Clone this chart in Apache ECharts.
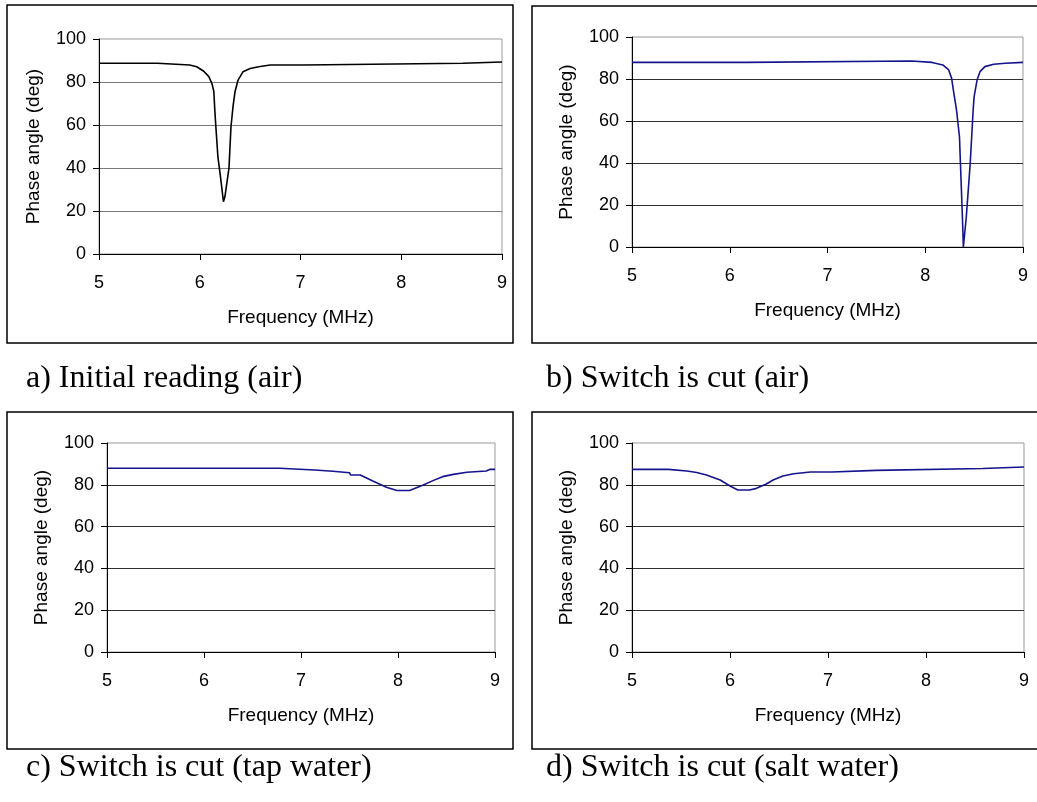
<!DOCTYPE html>
<html>
<head>
<meta charset="utf-8">
<script src="https://cdn.jsdelivr.net/npm/echarts@6/dist/echarts.min.js"></script>
<style>
html,body{margin:0;padding:0;background:#fff;}
#chart{width:1037px;height:802px;}
</style>
</head>
<body>
<div id="chart"></div>
<script>
// ---- data ----
const xTicks = [5, 6, 7, 8, 9];
const yTicks = [0, 20, 40, 60, 80, 100];
const captions = ['a) Initial reading (air)', 'b) Switch is cut (air)', 'c) Switch is cut (tap water)', 'd) Switch is cut (salt water)'];

const aFreq  = [5.00, 5.58, 5.59, 5.90, 5.91, 5.97, 6.04, 6.09, 6.12, 6.14, 6.15, 6.16, 6.18, 6.21, 6.235, 6.25, 6.29, 6.31, 6.33, 6.35, 6.38, 6.43, 6.50, 6.56, 6.60, 6.70, 7.03, 7.04, 8.61, 8.62, 9.00];
const aPhase = [88.7, 88.7, 87.9, 87.9, 87.4, 87.1, 85.0, 82.5, 79.4, 75.5, 66.5, 59.2, 45.3, 34.4, 24.3, 26.7, 39.9, 59.2, 68.5, 75.5, 80.9, 84.8, 86.3, 86.9, 87.2, 87.9, 87.9, 88.7, 88.7, 89.3, 89.3];

const bFreq  = [5.00, 6.17, 6.18, 7.86, 7.87, 8.07, 8.08, 8.18, 8.24, 8.27, 8.29, 8.32, 8.35, 8.36, 8.37, 8.38, 8.39, 8.41, 8.42, 8.44, 8.46, 8.475, 8.49, 8.50, 8.53, 8.56, 8.61, 8.70, 8.82, 8.83, 9.00];
const bPhase = [87.9, 87.9, 88.6, 88.6, 87.9, 87.9, 87.5, 86.7, 84.3, 80.3, 74.0, 65.2, 52.5, 39.9, 27.1, 14.4, 0, 0, 14.4, 27.1, 39.9, 52.5, 65.2, 71.6, 79.5, 83.5, 85.9, 87.0, 87.5, 87.9, 87.9];

const cFreq  = [5.00, 6.78, 6.79, 7.14, 7.15, 7.33, 7.34, 7.50, 7.51, 7.61, 7.74, 7.88, 7.99, 8.12, 8.26, 8.36, 8.46, 8.57, 8.71, 8.91, 8.95, 9.00];
const cPhase = [87.9, 87.9, 87.1, 87.1, 86.5, 86.5, 85.8, 85.8, 84.7, 84.7, 81.8, 78.8, 77.3, 77.3, 79.9, 82.0, 83.9, 85.0, 86.0, 86.6, 87.4, 87.4];

const dFreq  = [5.00, 5.37, 5.38, 5.56, 5.57, 5.66, 5.76, 5.90, 6.00, 6.08, 6.20, 6.27, 6.37, 6.44, 6.54, 6.65, 6.82, 7.04, 7.05, 7.49, 7.50, 8.58, 8.59, 9.00];
const dPhase = [87.4, 87.4, 86.6, 86.6, 85.9, 85.9, 84.7, 82.3, 79.4, 77.5, 77.5, 78.3, 80.4, 82.3, 84.2, 85.3, 86.1, 86.1, 86.9, 86.9, 87.8, 87.8, 88.5, 88.5];

// ---- layout ----
const panels = [
  {freq: aFreq, phase: aPhase, color: '#000000', grid: {left: 99, top: 39, width: 403, height: 215}, grid2: '#7a7a7a', box: [7, 5, 506, 338], cap: [26, 379]},
  {freq: bFreq, phase: bPhase, color: '#14148c', grid: {left: 632, top: 37, width: 391, height: 210}, grid2: '#303030', box: [532, 6, 520, 337], cap: [546, 379]},
  {freq: cFreq, phase: cPhase, color: '#14148c', grid: {left: 107, top: 443, width: 388, height: 209}, grid2: '#303030', box: [7, 412, 506, 337], cap: [26, 768]},
  {freq: dFreq, phase: dPhase, color: '#14148c', grid: {left: 632, top: 443, width: 392, height: 209}, grid2: '#303030', box: [532, 412, 520, 337], cap: [546, 768]}
];

const FONT = '"Liberation Sans", Arial, sans-serif';
const grids = [], xAxes = [], yAxes = [], series = [], graphics = [];

panels.forEach((p, i) => {
  grids.push(Object.assign({show: true, borderColor: '#999', borderWidth: 1, backgroundColor: 'transparent'}, p.grid));
  xAxes.push({
    type: 'value', gridIndex: i, min: xTicks[0], max: xTicks[xTicks.length - 1], interval: 1,
    name: 'Frequency (MHz)', nameLocation: 'middle', nameGap: 54,
    nameTextStyle: {fontSize: 19, fontFamily: FONT, color: '#000'},
    axisLine: {show: true, onZero: false, lineStyle: {color: '#000', width: 1}},
    axisTick: {show: true, inside: false, length: 6, lineStyle: {color: '#000'}},
    axisLabel: {fontSize: 18, fontFamily: FONT, color: '#000', margin: 20},
    splitLine: {show: false}
  });
  yAxes.push({
    type: 'value', gridIndex: i, min: yTicks[0], max: yTicks[yTicks.length - 1], interval: 20,
    name: 'Phase angle (deg)', nameLocation: 'middle', nameGap: 56,
    nameTextStyle: {fontSize: 19, fontFamily: FONT, color: '#000'},
    axisLine: {show: true, lineStyle: {color: '#000', width: 1}},
    axisTick: {show: true, inside: false, length: 6, lineStyle: {color: '#000'}},
    axisLabel: {fontSize: 18, fontFamily: FONT, color: '#000', margin: 13},
    splitLine: {show: true, showMinLine: false, showMaxLine: false, lineStyle: {color: p.grid2, width: 1}}
  });
  series.push({
    type: 'line', xAxisIndex: i, yAxisIndex: i, showSymbol: false, symbol: 'none',
    lineStyle: {color: p.color, width: 1.6}, animation: false,
    data: p.freq.map((f, k) => [f, p.phase[k]])
  });
  graphics.push({
    type: 'rect', shape: {x: p.box[0], y: p.box[1], width: p.box[2], height: p.box[3]},
    style: {fill: 'none', stroke: '#000', lineWidth: 1.5}, silent: true
  });
  graphics.push({
    type: 'text', x: p.cap[0], y: p.cap[1],
    style: {text: captions[i], fontSize: 32, fontFamily: '"Liberation Serif", "Times New Roman", serif', fill: '#000', verticalAlign: 'middle', align: 'left'},
    silent: true
  });
});

const chart = echarts.init(document.getElementById('chart'), null, {renderer: 'canvas'});
chart.setOption({
  animation: false,
  backgroundColor: '#fff',
  grid: grids, xAxis: xAxes, yAxis: yAxes, series: series,
  graphic: graphics
});
</script>
</body>
</html>
